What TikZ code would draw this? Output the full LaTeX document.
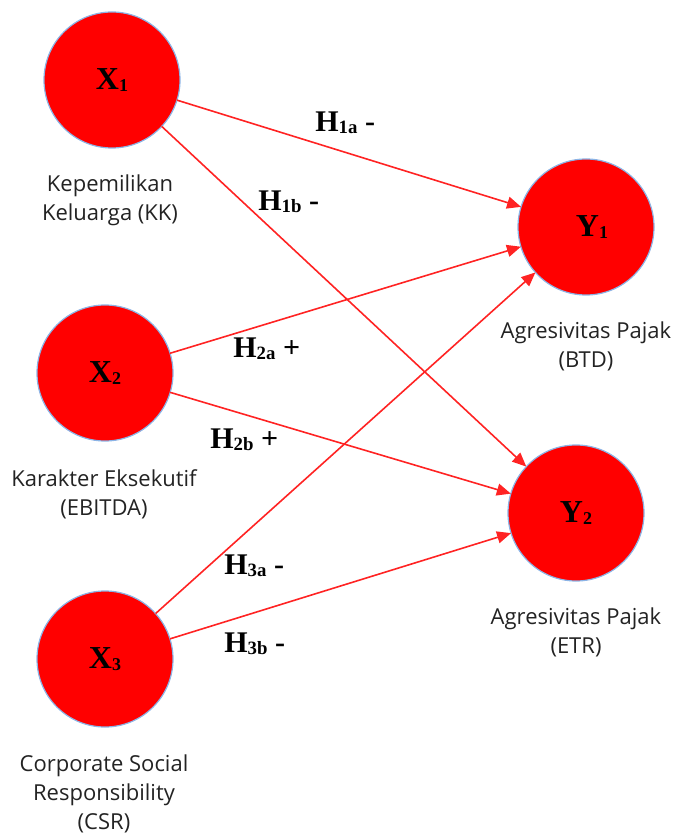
\documentclass[tikz,border=0pt]{standalone}
\usepackage{fontspec}
\setmainfont{Liberation Serif}
\newfontfamily\labfont{Open Sans}
\usetikzlibrary{arrows.meta}
\definecolor{nodered}{RGB}{255,0,0}
\definecolor{rimblue}{RGB}{140,180,230}
\definecolor{edgered}{RGB}{255,35,35}
\definecolor{txtgray}{RGB}{35,35,35}
\newcommand{\varsym}[2]{#1\raisebox{-1pt}{\fontsize{9}{9}\selectfont #2}}
\newcommand{\hypsym}[3]{H\raisebox{-1pt}{\fontsize{9.4}{9.4}\selectfont #1}\ #3}
\begin{document}
\begin{tikzpicture}[x=0.5pt,y=-0.5pt,
  latent/.style={circle,fill=nodered,draw=rimblue,line width=0.6pt,minimum size=68pt,inner sep=0pt,outer sep=0pt,font=\fontsize{16}{16}\selectfont\bfseries},
  pathline/.style={draw=edgered,line width=0.8pt,-{Triangle[length=7pt,width=6pt]}},
  desc/.style={font=\labfont\fontsize{11}{14.5}\selectfont,text=txtgray,align=center,anchor=base,inner sep=0pt},
  hyp/.style={font=\fontsize{15}{15}\selectfont\bfseries,anchor=base west,inner sep=0pt}]
\useasboundingbox (0,0) rectangle (676,838);
% latent variables
\node[latent] (X1) at (112,80) {\varsym{X}{1}};
\node[latent] (X2) at (105,373) {\varsym{X}{2}};
\node[latent] (X3) at (105,659) {\varsym{X}{3}};
\node[latent] (Y1) at (586,227) {\kern6pt\varsym{Y}{1}};
\node[latent] (Y2) at (576,513) {\varsym{Y}{2}};
% descriptions (anchored at the baseline of the last line)
\node[desc] (dX1) at (110,221) {Kepemilikan\\Keluarga (KK)};
\node[desc] (dX2) at (104,515) {Karakter Eksekutif\\(EBITDA)};
\node[desc] (dX3) at (104,829) {Corporate Social\\Responsibility\\(CSR)};
\node[desc] (dY1) at (586,368) {Agresivitas Pajak\\(BTD)};
\node[desc] (dY2) at (576,653) {Agresivitas Pajak\\(ETR)};
% paths
\draw[pathline] (X1) -- (Y1);
\draw[pathline] (X1) -- (Y2);
\draw[pathline] (X2) -- (Y1);
\draw[pathline] (X2) -- (Y2);
\draw[pathline] (X3) -- (Y1);
\draw[pathline] (X3) -- (Y2);
% hypothesis labels
\node[hyp] (h1a) at (315,132) {\hypsym{1a}{}{-}};
\node[hyp] (h1b) at (258,211) {\hypsym{1b}{}{-}};
\node[hyp] (h2a) at (233,358) {\hypsym{2a}{}{+}};
\node[hyp] (h2b) at (210,448) {\hypsym{2b}{}{+}};
\node[hyp] (h3a) at (224,574) {\hypsym{3a}{}{-}};
\node[hyp] (h3b) at (224,652) {\hypsym{3b}{}{-}};
\end{tikzpicture}
\end{document}
